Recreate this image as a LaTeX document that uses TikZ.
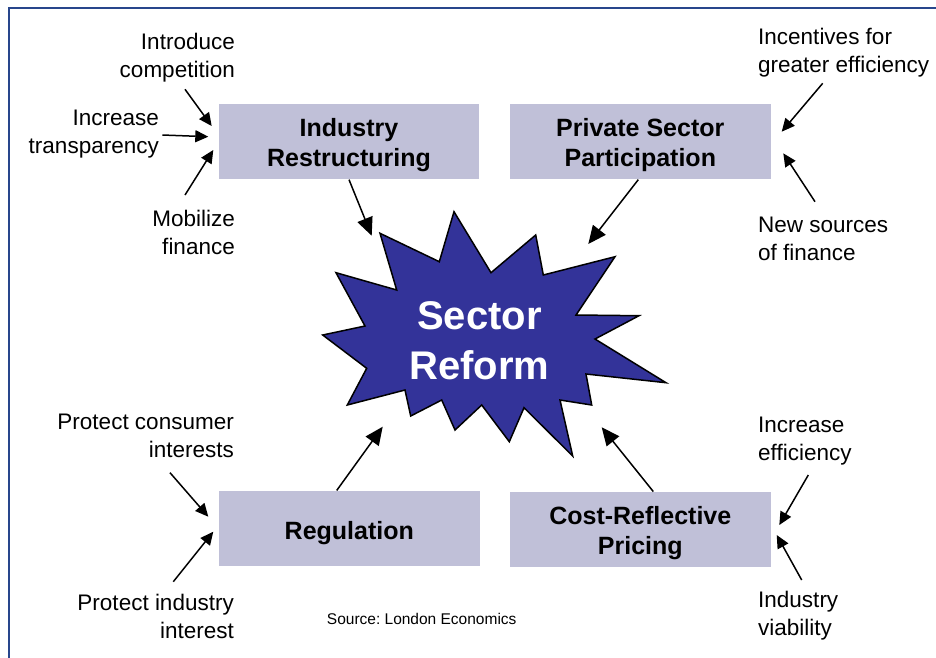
\documentclass[tikz,border=0pt]{standalone}
\usepackage{fontspec}
\setmainfont{Liberation Sans}
\usetikzlibrary{arrows.meta}
\definecolor{boxfill}{RGB}{192,192,216}
\definecolor{starblue}{RGB}{51,51,153}
\definecolor{framecol}{RGB}{40,70,140}
\frenchspacing
\begin{document}
\begin{tikzpicture}[x=1pt,y=-1pt,
  lbl/.style={inner sep=0pt, font=\fontsize{22.5}{28}\selectfont},
  box/.style={fill=boxfill, minimum width=260.5pt, minimum height=75.5pt, inner sep=0pt},
  boxtext/.style={inner sep=0pt, align=center, font=\bfseries\fontsize{25}{30}\selectfont},
  small/.style={line width=1.5pt, -{Triangle[length=13pt,width=12pt]}},
  big/.style={line width=1.5pt, -{Triangle[length=18pt,width=16pt]}}]
\clip (0,0) rectangle (936,657);
\fill[white] (0,0) rectangle (936,657);
\draw[framecol, line width=1.2pt] (9,8) rectangle (960,680);

% boxes
\node[box] (ir) at (349,141.7) {};
\node[box] (psp) at (640.3,141.7) {};
\node[box] (reg) at (349.3,528.4) {};
\node[box] (crp) at (640.3,529.5) {};
\node[boxtext] (irt) at ([yshift=-3pt]ir.center) {Industry\\Restructuring};
\node[boxtext] (pspt) at ([yshift=-3pt]psp.center) {Private Sector\\Participation};
\node[boxtext] (regt) at ([yshift=-4.5pt]reg.center) {Regulation};
\node[boxtext] (crpt) at ([yshift=-3.5pt]crp.center) {Cost-Reflective\\Pricing};

% star
\draw[fill=starblue, line width=1.5pt, line join=miter]
  (454,211.7) -- (491,272.7) -- (535.7,235) -- (543.3,275) -- (615,256.7)
  -- (576,315) -- (639,315.7) -- (595,339) -- (666,382.7) -- (586,374)
  -- (591.7,405) -- (560,400) -- (572.7,456) -- (524,407.7) -- (509.3,441.7)
  -- (481.7,405) -- (455,430) -- (441.7,400) -- (410.7,416) -- (405,390)
  -- (347.3,405) -- (366.7,368.3) -- (322.7,335) -- (365,326) -- (336,272.7)
  -- (396.7,290) -- (380,233.3) -- (439.3,261.7) -- cycle;
\node[text=white, align=center, inner sep=0pt, font=\bfseries\fontsize{40}{50}\selectfont] (sr) at (479.5,341) {Sector\\Reform};

% labels
\node[lbl, anchor=east, align=right] (l1) at (235,57.5) {Introduce\\competition};
\node[lbl, anchor=east, align=right] (l2) at (159,134) {Increase\\transparency};
\node[lbl, anchor=east, align=right] (l3) at (235,232) {Mobilize\\finance};
\node[lbl, anchor=west, align=left] (r1) at (758,53) {Incentives for\\greater efficiency};
\node[lbl, anchor=west, align=left] (r2) at (758,238.5) {New sources\\of finance};
\node[lbl, anchor=east, align=right] (l4) at (234,435.5) {Protect consumer\\interests};
\node[lbl, anchor=east, align=right] (l5) at (234,616.5) {Protect industry\\interest};
\node[lbl, anchor=west, align=left] (r3) at (758,441) {Increase\\efficiency};
\node[lbl, anchor=west, align=left] (r4) at (758,616) {Industry\\viability};
\node[inner sep=0pt, font=\fontsize{15.5}{18}\selectfont] (src) at (421.7,619) {Source: London Economics};

% coordinates
\coordinate (t1) at (371.7,235.7);
\coordinate (t2) at (588.3,244);
\coordinate (t3) at (382.7,426.7);
\coordinate (t4) at (601.7,427.3);
\coordinate (a1s) at (185,89.3);  \coordinate (a1e) at (211.7,126);
\coordinate (a2s) at (162.3,135); \coordinate (a2e) at (208.3,136.7);
\coordinate (a3s) at (185,195);   \coordinate (a3e) at (213.3,150);
\coordinate (b1s) at (822.7,83.3); \coordinate (b1e) at (781.7,131.7);
\coordinate (b2s) at (815,201.7);  \coordinate (b2e) at (783.3,153.3);
\coordinate (c1s) at (170,472.7);  \coordinate (c1e) at (208.3,516.7);
\coordinate (c2s) at (173.3,581.7); \coordinate (c2e) at (213.3,531.7);
\coordinate (d1s) at (808.3,475);  \coordinate (d1e) at (779.3,525);
\coordinate (d2s) at (801.7,580);  \coordinate (d2e) at (776.7,535);

% box to star arrows
\draw[big] (ir.south) -- (t1);
\draw[big] ([xshift=-2pt]psp.south) -- (t2);
\draw[big] ([xshift=-12.6pt]reg.north) -- (t3);
\draw[big] ([xshift=13pt]crp.north) -- (t4);

% small arrows
\draw[small] (a1s) -- (a1e);
\draw[small] (a2s) -- (a2e);
\draw[small] (a3s) -- (a3e);
\draw[small] (b1s) -- (b1e);
\draw[small] (b2s) -- (b2e);
\draw[small] (c1s) -- (c1e);
\draw[small] (c2s) -- (c2e);
\draw[small] (d1s) -- (d1e);
\draw[small] (d2s) -- (d2e);
\end{tikzpicture}
\end{document}
